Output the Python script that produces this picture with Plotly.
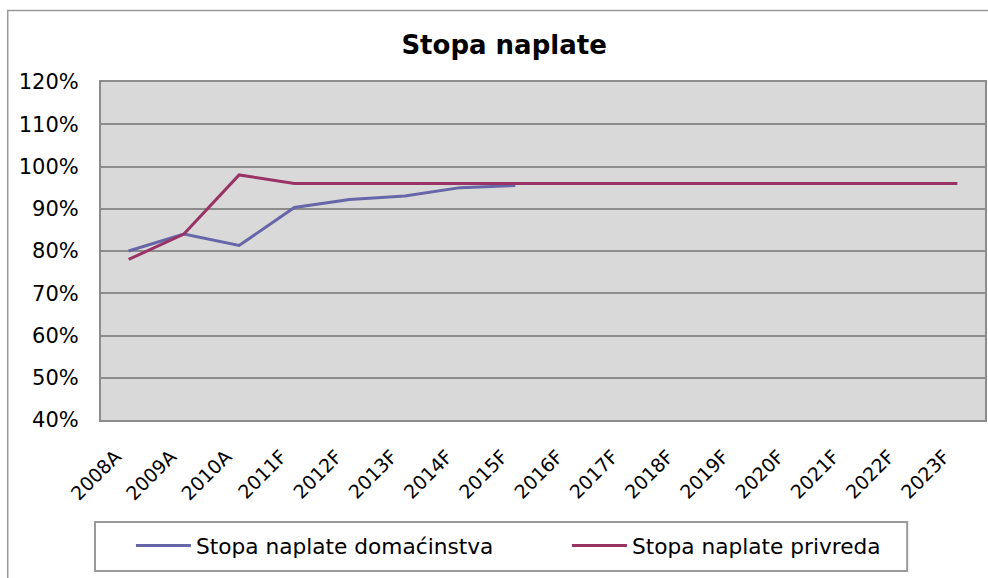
import plotly.graph_objects as go

categories = ["2008A", "2009A", "2010A", "2011F", "2012F", "2013F", "2014F", "2015F",
              "2016F", "2017F", "2018F", "2019F", "2020F", "2021F", "2022F", "2023F"]
households = [80, 84, 81.3, 90.3, 92.2, 93, 95, 95.5]
businesses = [78, 84, 98, 96, 96, 96, 96, 96, 96, 96, 96, 96, 96, 96, 96, 96]
y_ticks = [40, 50, 60, 70, 80, 90, 100, 110, 120]
y_tick_labels = [f"{v}%" for v in y_ticks]

W, H = 988, 578
L, R, T, B = 101, 1, 82, 158
pw, ph = W - L - R, H - T - B

def px(x):
    return (x - L) / pw

def py(y):
    return (H - B - y) / ph

fig = go.Figure()
fig.add_trace(go.Scatter(x=categories[:len(households)], y=households, mode="lines",
                         name="Stopa naplate domaćinstva", legendwidth=366,
                         line=dict(color="#6666A8", width=3)))
fig.add_trace(go.Scatter(x=categories, y=businesses, mode="lines",
                         name="Stopa naplate privreda", legendwidth=260,
                         line=dict(color="#993366", width=3)))

fig.update_layout(
    width=W, height=H,
    margin=dict(l=L, r=R, t=T, b=B, pad=0),
    paper_bgcolor="white",
    plot_bgcolor="#D9D9D9",
    title=dict(text="<b>Stopa naplate</b>", x=px(505), xref="paper", xanchor="center",
               y=1 - 45 / H, yref="container", yanchor="middle",
               font=dict(family="DejaVu Sans", size=26, color="black")),
    xaxis=dict(type="category", categoryorder="array", categoryarray=categories,
               range=[-0.5, len(categories) - 0.5],
               tickangle=-45, ticks="", showgrid=False,
               showline=True, mirror=True, linecolor="#8C8C8C", linewidth=2,
               tickfont=dict(family="DejaVu Sans", size=19, color="black"),
               ticklabelstandoff=16, ticklabelshift=-13),
    yaxis=dict(range=[40, 120], tickvals=y_ticks, ticktext=y_tick_labels,
               ticks="", showgrid=True, gridcolor="#8C8C8C", gridwidth=1.5,
               showline=True, mirror=True, linecolor="#8C8C8C", linewidth=2,
               zeroline=False,
               tickfont=dict(family="DejaVu Sans", size=21, color="black"),
               ticklabelstandoff=16),
    showlegend=True,
    legend=dict(orientation="h", x=px(131), y=py(546), xanchor="left", yanchor="middle",
                bgcolor="rgba(0,0,0,0)", borderwidth=0,
                entrywidthmode="pixels", itemwidth=55,
                font=dict(family="DejaVu Sans", size=21.7, color="black")),
    shapes=[
        dict(type="rect", xref="paper", yref="paper",
             x0=px(95), x1=px(909), y0=py(571), y1=py(522),
             line=dict(color="#9A9A9A", width=2), fillcolor="rgba(0,0,0,0)", layer="above"),
        dict(type="rect", xref="paper", yref="paper",
             x0=px(7.5), x1=px(1100), y0=py(700), y1=py(10.5),
             line=dict(color="#9A9A9A", width=1.5), fillcolor="rgba(0,0,0,0)", layer="below"),
    ],
)

fig.write_html("out.html", config={"displayModeBar": False},
               post_script="document.body.style.margin='0';document.body.style.overflow='hidden';")
